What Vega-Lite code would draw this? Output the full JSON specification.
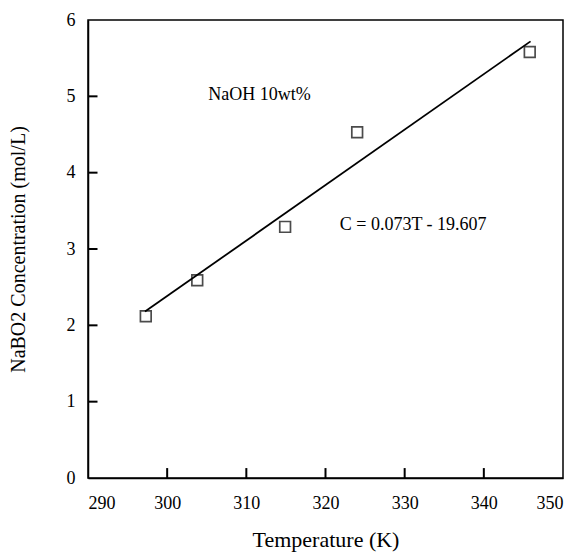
{
  "$schema": "https://vega.github.io/schema/vega-lite/v6.json",
  "autosize": "none",
  "width": 475,
  "height": 458,
  "padding": {"left": 88, "top": 20, "right": 14, "bottom": 75},
  "background": "white",
  "config": {
    "view": {"stroke": "black", "strokeWidth": 1.5},
    "font": "Liberation Serif",
    "axis": {
      "domain": true,
      "domainColor": "black",
      "domainWidth": 1.5,
      "grid": false,
      "ticks": false,
      "tickSize": 0,
      "labelFont": "Liberation Serif",
      "labelFontSize": 18,
      "labelColor": "black",
      "titleFont": "Liberation Serif",
      "titleFontWeight": "normal",
      "titleColor": "black"
    }
  },
  "datasets": {
    "points": [
      {"T": 297.3, "C": 2.12},
      {"T": 303.8, "C": 2.59},
      {"T": 314.9, "C": 3.29},
      {"T": 324.0, "C": 4.53},
      {"T": 345.8, "C": 5.58}
    ],
    "fit": [
      {"T": 297.2, "C": 2.18},
      {"T": 345.9, "C": 5.72}
    ],
    "labels": [
      {"T": 305.2, "C": 5.02, "text": "NaOH 10wt%"},
      {"T": 321.8, "C": 3.32, "text": "C = 0.073T - 19.607"}
    ],
    "xticks": [
      {"T": 300}, {"T": 310}, {"T": 320}, {"T": 330}, {"T": 340}
    ],
    "yticks": [
      {"C": 1}, {"C": 2}, {"C": 3}, {"C": 4}, {"C": 5}
    ]
  },
  "layer": [
    {
      "data": {"name": "fit"},
      "mark": {"type": "line", "color": "black", "strokeWidth": 1.8},
      "encoding": {
        "x": {
          "field": "T", "type": "quantitative",
          "scale": {"domain": [290, 350], "nice": false, "zero": false},
          "axis": {"values": [290, 300, 310, 320, 330, 340, 350], "labelPadding": 16, "title": "Temperature  (K)", "titleFontSize": 22, "titlePadding": 17}
        },
        "y": {
          "field": "C", "type": "quantitative",
          "scale": {"domain": [0, 6], "nice": false},
          "axis": {"values": [0, 1, 2, 3, 4, 5, 6], "format": "d", "labelPadding": 13, "title": "NaBO2 Concentration (mol/L)", "titleFontSize": 20, "titlePadding": 38}
        }
      }
    },
    {
      "data": {"name": "xticks"},
      "mark": {"type": "rule", "color": "black", "strokeWidth": 2},
      "encoding": {
        "x": {"field": "T", "type": "quantitative"},
        "y": {"datum": 0},
        "y2": {"datum": 0.13}
      }
    },
    {
      "data": {"name": "yticks"},
      "mark": {"type": "rule", "color": "black", "strokeWidth": 2},
      "encoding": {
        "y": {"field": "C", "type": "quantitative"},
        "x": {"datum": 290},
        "x2": {"datum": 291.2}
      }
    },
    {
      "data": {"name": "points"},
      "mark": {"type": "point", "shape": "square", "filled": false, "color": "black", "size": 115, "strokeWidth": 1.7},
      "encoding": {
        "x": {"field": "T", "type": "quantitative"},
        "y": {"field": "C", "type": "quantitative"}
      }
    },
    {
      "data": {"name": "labels"},
      "mark": {"type": "text", "align": "left", "baseline": "middle", "fontSize": 18, "font": "Liberation Serif", "color": "black"},
      "encoding": {
        "x": {"field": "T", "type": "quantitative"},
        "y": {"field": "C", "type": "quantitative"},
        "text": {"field": "text"}
      }
    }
  ]
}
